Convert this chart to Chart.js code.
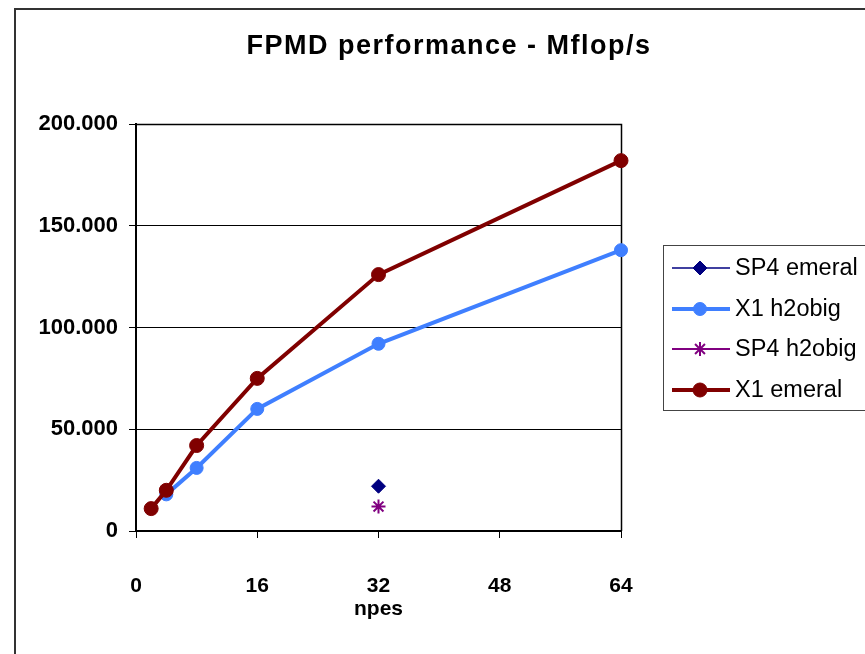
<!DOCTYPE html>
<html>
<head>
<meta charset="utf-8">
<script src="https://cdn.jsdelivr.net/npm/chart.js@4.4.1/dist/chart.umd.min.js"></script>
<style>
  html, body { margin: 0; padding: 0; background: #fff; }
  #wrap { width: 865px; height: 654px; }
</style>
</head>
<body>
<div id="wrap"><canvas id="c" width="865" height="654"></canvas></div>
<script>
// data
const xTicks = [0, 16, 32, 48, 64];
const yTicks = [0, 50, 100, 150, 200];

const sp4EmeralNpes = [32];
const sp4EmeralVals = [22];

const x1H2obigNpes = [4, 8, 16, 32, 64];
const x1H2obigVals = [18, 31, 60, 92, 138];

const sp4H2obigNpes = [32];
const sp4H2obigVals = [12];

const x1EmeralNpes = [2, 4, 8, 16, 32, 64];
const x1EmeralVals = [11, 20, 42, 75, 126, 182];

const FONT = "'Liberation Sans', Arial, sans-serif";

function pts(xs, ys) {
  return xs.map((x, i) => ({ x: x, y: ys[i] }));
}

// title, outer frame, plot box and the legend are drawn here
const decor = {
  id: "decor",
  beforeDraw(chart) {
    const ctx = chart.ctx;
    ctx.save();
    ctx.fillStyle = "#fff";
    ctx.fillRect(0, 0, chart.width, chart.height);
    ctx.strokeStyle = "#333";
    ctx.lineWidth = 2;
    ctx.strokeRect(15, 9, 900, 700);

    ctx.fillStyle = "#000";
    ctx.font = "bold 27px " + FONT;
    ctx.letterSpacing = "1.5px";
    ctx.textAlign = "center";
    ctx.textBaseline = "middle";
    ctx.fillText("FPMD performance - Mflop/s", 449, 47);
    ctx.restore();
  },
  beforeDatasetsDraw(chart) {
    const ctx = chart.ctx;
    const a = chart.chartArea;
    ctx.save();
    ctx.strokeStyle = "#000";
    ctx.lineWidth = 1.5;
    ctx.beginPath();
    ctx.moveTo(a.left, a.top + 0.5);
    ctx.lineTo(a.right + 0.5, a.top + 0.5);
    ctx.lineTo(a.right + 0.5, a.bottom);
    ctx.stroke();
    ctx.restore();
  },
  afterDraw(chart) {
    const ctx = chart.ctx;
    ctx.save();
    ctx.strokeStyle = "#444";
    ctx.lineWidth = 1;
    ctx.strokeRect(663.5, 245.5, 300, 165);
    ctx.font = "23.5px " + FONT;
    ctx.textBaseline = "middle";
    ctx.textAlign = "left";
    const rows = [268, 309, 349, 390];
    chart.data.datasets.forEach((ds, i) => {
      const y = rows[i];
      ctx.strokeStyle = ds.borderColor;
      ctx.fillStyle = ds.backgroundColor;
      ctx.lineWidth = ds.legendLine;
      ctx.beginPath();
      ctx.moveTo(672, y);
      ctx.lineTo(730, y);
      ctx.stroke();
      ctx.lineWidth = ds.pointBorderWidth;
      Chart.helpers.drawPoint(ctx, {
        pointStyle: ds.pointStyle,
        radius: ds.pointRadius,
        borderWidth: ds.pointBorderWidth,
        rotation: 0
      }, 700, y);
      ctx.fillStyle = "#000";
      ctx.fillText(ds.label, 735, y + 1);
    });
    ctx.restore();
  }
};

new Chart(document.getElementById("c"), {
  type: "line",
  data: {
    datasets: [
      {
        label: "SP4 emeral",
        data: pts(sp4EmeralNpes, sp4EmeralVals),
        borderColor: "#000080",
        backgroundColor: "#000080",
        pointStyle: "rectRot",
        pointRadius: 7,
        pointBorderWidth: 1,
        borderWidth: 1.5,
        legendLine: 1.5,
        showLine: false,
        order: 1,
        clip: false
      },
      {
        label: "X1 h2obig",
        data: pts(x1H2obigNpes, x1H2obigVals),
        borderColor: "#3f7fff",
        backgroundColor: "#3f7fff",
        pointStyle: "circle",
        pointRadius: 6.5,
        pointBorderWidth: 1,
        borderWidth: 4,
        legendLine: 4,
        order: 1,
        clip: false
      },
      {
        label: "SP4 h2obig",
        data: pts(sp4H2obigNpes, sp4H2obigVals),
        borderColor: "#800080",
        backgroundColor: "#800080",
        pointStyle: "star",
        pointRadius: 7,
        pointBorderWidth: 2,
        borderWidth: 2,
        legendLine: 2,
        showLine: false,
        order: 1,
        clip: false
      },
      {
        label: "X1 emeral",
        data: pts(x1EmeralNpes, x1EmeralVals),
        borderColor: "#800000",
        backgroundColor: "#800000",
        pointStyle: "circle",
        pointRadius: 7,
        pointBorderWidth: 1,
        borderWidth: 4,
        legendLine: 4,
        order: 0,
        clip: false
      }
    ]
  },
  options: {
    responsive: false,
    animation: false,
    layout: { padding: { left: 15, top: 124, right: 244, bottom: 0 } },
    plugins: {
      legend: { display: false },
      title: { display: false },
      tooltip: { enabled: false }
    },
    scales: {
      x: {
        type: "linear",
        min: 0,
        max: 64,
        afterBuildTicks: s => { s.ticks = xTicks.map(v => ({ value: v })); },
        afterFit: s => { s.height = 123; },
        border: { color: "#000", width: 2 },
        grid: { drawOnChartArea: false, color: "#000", tickLength: 7, lineWidth: 1 },
        ticks: {
          color: "#000",
          padding: 36,
          maxRotation: 0,
          font: { family: FONT, size: 21, weight: "bold" }
        },
        title: {
          display: true,
          text: "npes",
          color: "#000",
          font: { family: FONT, size: 21, weight: "bold" },
          padding: { top: 0, bottom: 32 }
        }
      },
      y: {
        min: 0,
        max: 200,
        afterBuildTicks: s => { s.ticks = yTicks.map(v => ({ value: v })); },
        afterFit: s => { s.width = 121; },
        border: { color: "#000", width: 2 },
        grid: { color: "#000", tickLength: 7, lineWidth: 1 },
        ticks: {
          color: "#000",
          padding: 11,
          font: { family: FONT, size: 22, weight: "bold" },
          callback: v => (v === 0 ? "0" : v.toFixed(3))
        }
      }
    }
  },
  plugins: [decor]
});
</script>
</body>
</html>
